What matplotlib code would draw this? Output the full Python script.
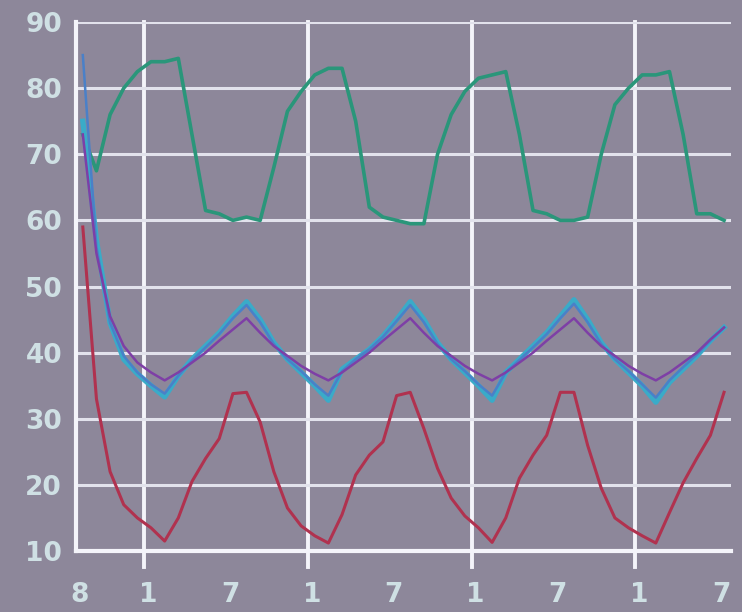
import numpy as np
import matplotlib.pyplot as plt
from matplotlib.transforms import ScaledTranslation

# hourly readings, first one half an hour after 8 o'clock
hours = np.arange(0.5, 48, 1.0)

green = [73, 67.5, 76, 80, 82.5, 84, 84, 84.5, 73, 61.5, 61, 60,
         60.5, 60, 68, 76.5, 79.5, 82, 83, 83, 75, 62, 60.5, 60,
         59.5, 59.5, 70, 76, 79.5, 81.5, 82, 82.5, 73, 61.5, 61, 60,
         60, 60.5, 70, 77.5, 80, 82, 82, 82.5, 73, 61, 61, 60]
cyan = [75, 57, 44.5, 39, 36.8, 35, 33.3, 36.5, 39, 41, 43, 45.5,
        47.7, 45, 41.5, 39, 37, 35, 32.8, 37.5, 39, 40.5, 42.5, 45,
        47.7, 45, 41.5, 39, 37, 35, 32.8, 37, 39, 41, 43, 45.5,
        48, 45, 41.5, 39, 37, 35, 32.5, 35.5, 37.5, 39.5, 41.8, 43.8]
blue = [85, 56, 44.5, 39.5, 37, 35.2, 33.8, 36.5, 38.8, 40.8, 42.8, 45.2,
        47.2, 44.6, 41.3, 39, 37.2, 35.2, 33.5, 37.2, 39, 40.5, 42.4, 44.8,
        47.2, 44.6, 41.3, 39, 37.2, 35.2, 33.5, 37, 38.9, 40.8, 42.8, 45.2,
        47.4, 44.6, 41.3, 39, 37.2, 35.2, 33.2, 35.8, 37.8, 39.7, 41.8, 43.8]
purple = [73, 55, 45.5, 41, 38.5, 37, 35.8, 37, 38.5, 40, 41.8, 43.5,
          45.2, 43, 41, 39.5, 38, 36.8, 35.8, 37, 38.5, 40, 41.8, 43.5,
          45.2, 43, 41, 39.5, 38, 36.8, 35.8, 37, 38.5, 40, 41.8, 43.5,
          45.2, 43, 41, 39.5, 38, 36.8, 35.8, 37, 38.5, 40, 42, 43.8]
red = [59, 33, 22, 17, 15, 13.5, 11.5, 15, 20.5, 24, 27, 33.8,
       34, 29.5, 22, 16.5, 13.8, 12.3, 11.2, 15.5, 21.5, 24.5, 26.5, 33.5,
       34, 28.5, 22.5, 18, 15.3, 13.5, 11.3, 15, 21, 24.5, 27.5, 34,
       34, 26, 19.5, 15, 13.5, 12.3, 11.2, 15.8, 20.3, 24, 27.5, 34]

tick_hours = [0, 5, 11, 17, 23, 29, 35, 41, 47]
tick_labels = ['8', '1', '7', '1', '7', '1', '7', '1', '7']
grid_hours = [5, 17, 29, 41]
y_ticks = [10, 20, 30, 40, 50, 60, 70, 80, 90]

bg = '#8d879a'
txt = '#cfe0e4'

fig = plt.figure(figsize=(7.42, 6.12), dpi=100, facecolor=bg)
ax = fig.add_axes([0.1024, 0.0997, 0.8826, 0.8643])
ax.set_facecolor(bg)

ax.plot(hours, green, color='#2a967a', lw=2.6, zorder=3)
ax.plot(hours, red, color='#b0324f', lw=2.2, zorder=3)
ax.plot(hours, cyan, color='#3aabc8', lw=3.8, zorder=3)
ax.plot(hours, blue, color='#4a80c8', lw=1.8, zorder=4)
ax.plot(hours, purple, color='#7e3fa6', lw=1.8, zorder=5)

ax.set_xlim(0, 48)
ax.set_ylim(10, 90)

# horizontal grid, vertical lines only at the 1 o'clock marks
ax.set_yticks(y_ticks)
ax.yaxis.grid(True, color='#e2e2ec', lw=2.2, zorder=1)
for h in grid_hours:
    ax.axvline(h, ymin=-0.03, ymax=1, color='#f4f4fa', lw=2.8, clip_on=False, zorder=1)

for s in ['top', 'right']:
    ax.spines[s].set_visible(False)
for s in ['left', 'bottom']:
    ax.spines[s].set_color('#f4f4fa')
    ax.spines[s].set_linewidth(3)
    ax.spines[s].set_zorder(2)

ax.set_xticks(tick_hours)
ax.set_xticklabels(tick_labels)
ax.tick_params(axis='both', length=0, colors=txt, labelsize=19)
ax.tick_params(axis='y', pad=10)
ax.tick_params(axis='x', pad=22)
for lab in ax.get_xticklabels() + ax.get_yticklabels():
    lab.set_fontweight('bold')
    lab.set_color(txt)
for lab in ax.get_xticklabels():
    lab.set_transform(lab.get_transform() + ScaledTranslation(4 / 100, 0, fig.dpi_scale_trans))

fig.savefig('out.png', dpi=100, facecolor=bg)
